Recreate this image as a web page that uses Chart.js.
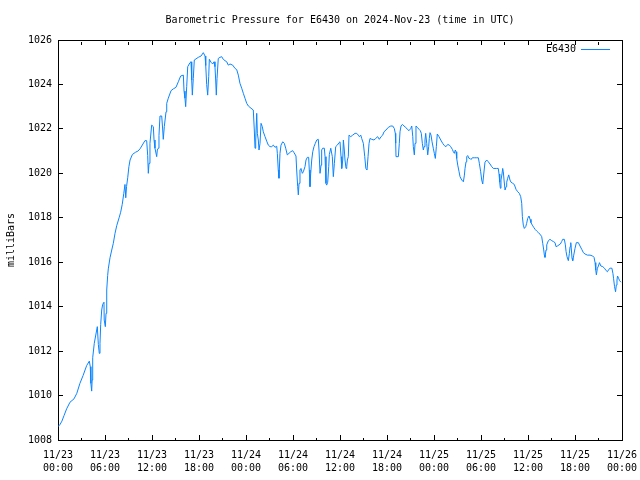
<!DOCTYPE html>
<html>
<head>
<meta charset="utf-8">
<script src="https://cdn.jsdelivr.net/npm/chart.js@4/dist/chart.umd.min.js"></script>
<style>
  html, body { margin: 0; padding: 0; background: #fff; }
  canvas { display: block; }
</style>
</head>
<body>
<canvas id="pressureChart" width="640" height="480"></canvas>
<script>
// hours since 2024-11-23 00:00 UTC
const hours = [
  0.0, 0.26, 0.5, 0.77, 1.1, 1.53, 2.04, 2.4, 2.8, 3.2, 3.66, 4.0, 4.12, 4.2, 4.3, 4.36, 4.43, 4.63, 4.94, 5.02,
  5.15, 5.27, 5.36, 5.45, 5.58, 5.7, 5.87, 5.9, 6.04, 6.13, 6.22, 6.34, 6.42, 6.64, 6.86, 7.06, 7.28, 7.5, 7.8, 8.0,
  8.2, 8.4, 8.55, 8.65, 8.75, 8.9, 9.05, 9.2, 9.5, 9.9, 10.2, 10.47, 11.1, 11.32, 11.45, 11.53, 11.62, 11.74, 11.96, 12.17,
  12.26, 12.38, 12.6, 12.68, 12.8, 12.89, 13.02, 13.24, 13.37, 13.44, 13.57, 13.79, 13.88, 14.08, 14.43, 14.72, 15.06, 15.36, 15.66, 16.0,
  16.09, 16.21, 16.3, 16.43, 16.56, 16.85, 16.98, 17.07, 17.15, 17.27, 17.4, 17.62, 17.91, 18.26, 18.55, 18.77, 18.86, 18.98, 19.11, 19.24,
  19.32, 19.53, 19.75, 19.92, 20.04, 20.13, 20.21, 20.3, 20.46, 20.68, 20.9, 21.1, 21.32, 21.54, 21.74, 21.96, 22.3, 22.6, 22.81, 23.02,
  23.23, 23.45, 23.66, 23.87, 24.09, 24.3, 24.64, 24.93, 25.06, 25.15, 25.24, 25.37, 25.45, 25.57, 25.66, 25.79, 25.92, 26.08, 26.21, 26.43,
  26.64, 26.85, 27.07, 27.28, 27.49, 27.7, 27.92, 28.0, 28.12, 28.21, 28.34, 28.47, 28.69, 28.89, 29.07, 29.27, 29.49, 29.71, 29.96, 30.13,
  30.38, 30.47, 30.6, 30.68, 30.77, 30.89, 31.02, 31.19, 31.32, 31.53, 31.66, 31.83, 32.0, 32.08, 32.17, 32.26, 32.39, 32.52, 32.68, 32.85,
  33.03, 33.23, 33.32, 33.45, 33.58, 33.66, 33.79, 34.0, 34.09, 34.21, 34.3, 34.43, 34.56, 34.64, 34.82, 35.02, 35.15, 35.28, 35.45, 35.66,
  35.88, 36.0, 36.13, 36.22, 36.35, 36.43, 36.55, 36.64, 36.77, 36.86, 36.94, 37.06, 37.15, 37.37, 37.62, 37.92, 38.13, 38.34, 38.47, 38.65,
  38.77, 38.98, 39.16, 39.3, 39.45, 39.58, 39.71, 39.83, 40.05, 40.34, 40.56, 40.81, 41.02, 41.24, 41.45, 41.62, 41.87, 42.17, 42.48, 42.73,
  42.93, 43.06, 43.11, 43.15, 43.45, 43.57, 43.66, 43.79, 43.96, 44.17, 44.39, 44.6, 44.81, 45.03, 45.16, 45.29, 45.36, 45.49, 45.58, 45.7,
  45.87, 46.09, 46.25, 46.38, 46.51, 46.64, 46.73, 46.85, 46.94, 47.07, 47.2, 47.32, 47.4, 47.49, 47.62, 47.75, 47.91, 48.04, 48.17, 48.3,
  48.42, 48.64, 48.86, 49.11, 49.32, 49.53, 49.75, 49.96, 50.13, 50.34, 50.47, 50.6, 50.72, 50.81, 50.9, 51.03, 51.2, 51.32, 51.54, 51.75,
  51.88, 51.96, 52.09, 52.18, 52.3, 52.47, 52.6, 52.73, 52.89, 53.15, 53.45, 53.66, 53.79, 53.96, 54.09, 54.22, 54.35, 54.51, 54.73, 54.93,
  55.15, 55.37, 55.57, 56.0, 56.21, 56.3, 56.39, 56.47, 56.55, 56.68, 56.77, 56.85, 56.94, 57.07, 57.2, 57.28, 57.41, 57.54, 57.7, 57.83,
  58.05, 58.25, 58.47, 58.69, 58.89, 59.07, 59.2, 59.28, 59.4, 59.53, 59.71, 59.83, 59.96, 60.13, 60.26, 60.38, 60.55, 60.73, 60.9, 61.12,
  61.32, 61.54, 61.75, 61.88, 62.01, 62.09, 62.17, 62.3, 62.39, 62.6, 62.81, 63.03, 63.24, 63.45, 63.58, 63.75, 63.96, 64.13, 64.3, 64.43,
  64.64, 64.77, 64.86, 64.98, 65.15, 65.28, 65.37, 65.46, 65.54, 65.62, 65.71, 65.84, 66.0, 66.17, 66.43, 66.64, 66.86, 67.07, 67.28, 67.58,
  67.92, 68.26, 68.43, 68.56, 68.65, 68.73, 68.86, 68.99, 69.12, 69.3, 69.55, 69.76, 69.98, 70.14, 70.32, 70.49, 70.71, 70.84, 70.92, 71.05,
  71.18, 71.27, 71.36, 71.43, 71.56, 71.69, 71.87
];

const pressure = [
  1008.6, 1008.7, 1008.85, 1009.1, 1009.4, 1009.7, 1009.85, 1010.1, 1010.55, 1010.9, 1011.35, 1011.55, 1011.3, 1010.55, 1010.2, 1010.7, 1011.7, 1012.35, 1012.95, 1013.1,
  1012.3, 1011.9, 1012.35, 1013.2, 1013.85, 1014.1, 1014.2, 1013.4, 1013.1, 1013.7, 1014.75, 1015.4, 1015.7, 1016.2, 1016.55, 1016.85, 1017.3, 1017.65, 1018.0, 1018.25,
  1018.6, 1019.1, 1019.5, 1018.9, 1019.4, 1019.8, 1020.3, 1020.6, 1020.85, 1020.95, 1021.0, 1021.1, 1021.47, 1021.47, 1020.8, 1020.0, 1020.45, 1021.35, 1022.17, 1022.1,
  1021.5, 1021.13, 1020.75, 1021.05, 1021.13, 1021.7, 1022.58, 1022.58, 1021.95, 1021.53, 1022.1, 1022.77, 1023.15, 1023.38, 1023.72, 1023.8, 1023.87, 1024.12, 1024.38, 1024.42,
  1023.7, 1023.38, 1023.0, 1023.9, 1024.8, 1024.98, 1025.02, 1024.2, 1023.52, 1024.27, 1025.1, 1025.15, 1025.22, 1025.28, 1025.43, 1025.28, 1024.85, 1024.0, 1023.52, 1024.35,
  1025.13, 1025.0, 1024.92, 1025.02, 1024.8, 1024.2, 1023.52, 1024.27, 1025.17, 1025.22, 1025.25, 1025.13, 1025.07, 1025.02, 1024.87, 1024.92, 1024.87, 1024.72, 1024.67, 1024.42,
  1024.05, 1023.83, 1023.6, 1023.38, 1023.15, 1023.03, 1022.93, 1022.85, 1021.95, 1021.13, 1021.5, 1022.7, 1021.8, 1021.5, 1021.05, 1021.35, 1022.25, 1022.1, 1021.87, 1021.65,
  1021.45, 1021.27, 1021.2, 1021.2, 1021.27, 1021.17, 1021.22, 1020.9, 1020.15, 1019.78, 1020.9, 1021.27, 1021.42, 1021.35, 1021.13, 1020.83, 1020.9, 1020.97, 1021.02, 1020.93,
  1020.78, 1020.15, 1019.4, 1019.03, 1019.55, 1020.15, 1020.22, 1020.0, 1020.07, 1020.3, 1020.6, 1020.72, 1020.72, 1020.15, 1019.4, 1020.0, 1020.6, 1020.97, 1021.2, 1021.35,
  1021.5, 1021.53, 1021.05, 1020.0, 1020.37, 1021.05, 1021.13, 1021.13, 1020.75, 1019.55, 1019.47, 1019.6, 1020.3, 1020.85, 1021.13, 1020.75, 1019.85, 1020.45, 1021.2, 1021.27,
  1021.38, 1021.42, 1020.75, 1020.22, 1020.6, 1021.5, 1021.05, 1020.6, 1020.22, 1020.3, 1020.6, 1020.75, 1021.72, 1021.65, 1021.72, 1021.8, 1021.8, 1021.72, 1021.65, 1021.72,
  1021.57, 1021.35, 1020.75, 1020.22, 1020.15, 1020.75, 1021.35, 1021.57, 1021.53, 1021.5, 1021.57, 1021.65, 1021.53, 1021.65, 1021.72, 1021.87, 1021.95, 1022.07, 1022.13, 1022.13,
  1022.02, 1021.8, 1021.35, 1020.75, 1020.75, 1021.35, 1021.87, 1022.13, 1022.2, 1022.13, 1022.07, 1021.98, 1021.92, 1022.02, 1022.13, 1021.65, 1021.2, 1020.83, 1021.35, 1022.13,
  1022.07, 1021.98, 1021.92, 1021.8, 1021.35, 1021.05, 1021.2, 1021.5, 1021.8, 1021.35, 1020.83, 1021.2, 1021.57, 1021.83, 1021.72, 1021.42, 1021.13, 1020.9, 1020.67, 1021.2,
  1021.77, 1021.65, 1021.5, 1021.35, 1021.25, 1021.2, 1021.3, 1021.27, 1021.2, 1021.08, 1020.97, 1020.9, 1021.05, 1020.97, 1020.67, 1020.37, 1020.07, 1019.85, 1019.7, 1019.62,
  1019.92, 1020.22, 1020.52, 1020.75, 1020.8, 1020.67, 1020.67, 1020.62, 1020.7, 1020.7, 1020.7, 1020.7, 1020.45, 1020.07, 1019.7, 1019.52, 1019.97, 1020.5, 1020.6, 1020.52,
  1020.42, 1020.3, 1020.22, 1020.22, 1020.22, 1019.97, 1019.6, 1019.33, 1019.7, 1019.97, 1020.22, 1020.07, 1019.7, 1019.25, 1019.4, 1019.6, 1019.78, 1019.93, 1019.7, 1019.6,
  1019.55, 1019.5, 1019.28, 1019.17, 1019.1, 1018.95, 1018.65, 1018.05, 1017.67, 1017.52, 1017.6, 1017.75, 1017.97, 1018.08, 1017.93, 1017.78, 1017.67, 1017.57, 1017.48, 1017.4,
  1017.33, 1017.26, 1017.15, 1016.85, 1016.55, 1016.32, 1016.22, 1016.55, 1016.78, 1016.97, 1017.03, 1016.97, 1016.93, 1016.88, 1016.7, 1016.73, 1016.78, 1016.82, 1016.93, 1017.03,
  1017.03, 1016.78, 1016.48, 1016.25, 1016.07, 1016.4, 1016.7, 1016.88, 1016.55, 1016.17, 1016.07, 1016.32, 1016.62, 1016.88, 1016.88, 1016.73, 1016.58, 1016.43, 1016.37, 1016.32,
  1016.32, 1016.28, 1016.22, 1015.98, 1015.65, 1015.43, 1015.73, 1015.83, 1015.98, 1015.83, 1015.8, 1015.73, 1015.62, 1015.57, 1015.68, 1015.73, 1015.73, 1015.5, 1015.28, 1014.9,
  1014.67, 1014.97, 1015.2, 1015.38, 1015.28, 1015.17, 1015.1
];

const tickDates = ['11/23', '11/23', '11/23', '11/23', '11/24', '11/24', '11/24', '11/24', '11/25', '11/25', '11/25', '11/25', '11/26'];
const tickTimes = ['00:00', '06:00', '12:00', '18:00', '00:00', '06:00', '12:00', '18:00', '00:00', '06:00', '12:00', '18:00', '00:00'];

const lineColor = '#0a84ff';

Chart.defaults.font.family = '"DejaVu Sans Mono", monospace';
Chart.defaults.font.size = 10;
Chart.defaults.color = '#000';

// gnuplot style key, drawn inside the plot box at top right
const insideKey = {
  id: 'insideKey',
  afterDraw(chart) {
    const ctx = chart.ctx;
    const area = chart.chartArea;
    const ds = chart.data.datasets[0];
    const y = area.top + 9.5;
    ctx.save();
    ctx.font = '10px "DejaVu Sans Mono", monospace';
    ctx.fillStyle = '#000';
    ctx.textAlign = 'right';
    ctx.textBaseline = 'middle';
    ctx.fillText(ds.label, area.right - 46, y);
    ctx.strokeStyle = ds.borderColor;
    ctx.lineWidth = 1;
    ctx.beginPath();
    ctx.moveTo(area.right - 41, y);
    ctx.lineTo(area.right - 12, y);
    ctx.stroke();
    ctx.restore();
  }
};

function xGrid() {
  return {
    drawOnChartArea: false,
    tickLength: -5,
    color: '#000',
    tickBorderDash: ctx => (ctx.tick && ctx.tick.value % 6 !== 0) ? [3, 20] : []
  };
}

// keep the plot box fixed, like gnuplot's margins
function fixHeight(h) {
  return s => { s.height = h; s.paddingLeft = 0; s.paddingRight = 0; };
}
function fixWidth(w) {
  return s => { s.width = w; s.paddingTop = 0; s.paddingBottom = 0; };
}

const yGrid = { drawOnChartArea: false, tickLength: -5, color: '#000' };
const axisBorder = { color: '#000', width: 1 };

new Chart(document.getElementById('pressureChart'), {
  type: 'line',
  data: {
    datasets: [{
      label: 'E6430',
      data: hours.map((h, i) => ({ x: h, y: pressure[i] })),
      borderColor: lineColor,
      backgroundColor: lineColor,
      borderWidth: 1,
      pointRadius: 0,
      tension: 0,
      xAxisID: 'x',
      yAxisID: 'y'
    }]
  },
  options: {
    responsive: false,
    animation: false,
    devicePixelRatio: 1,
    layout: { padding: 0 },
    plugins: {
      legend: { display: false },
      tooltip: { enabled: false },
      title: {
        display: true,
        text: 'Barometric Pressure for E6430 on 2024-Nov-23 (time in UTC)',
        fullSize: false,
        color: '#000',
        font: { size: 10, weight: 'normal' },
        padding: { top: 14, bottom: 0 }
      }
    },
    scales: {
      x: {
        type: 'linear',
        position: 'bottom',
        min: 0,
        max: 72,
        ticks: {
          stepSize: 3,
          autoSkip: false,
          maxRotation: 0,
          padding: 14,
          font: { size: 10, lineHeight: 1.3 },
          callback: v => v % 6 === 0 ? [tickDates[v / 6], tickTimes[v / 6]] : ''
        },
        grid: xGrid(),
        border: axisBorder,
        afterFit: fixHeight(40)
      },
      xTop: {
        type: 'linear',
        position: 'top',
        min: 0,
        max: 72,
        ticks: { stepSize: 3, display: false },
        grid: xGrid(),
        border: axisBorder,
        afterFit: fixHeight(14)
      },
      y: {
        type: 'linear',
        position: 'left',
        min: 1008,
        max: 1026,
        ticks: { stepSize: 2, padding: 11, callback: v => String(v) },
        grid: yGrid,
        border: axisBorder,
        title: { display: true, text: 'milliBars', padding: { top: 5, bottom: 0 } },
        afterFit: fixWidth(58)
      },
      yRight: {
        type: 'linear',
        position: 'right',
        min: 1008,
        max: 1026,
        ticks: { stepSize: 2, display: false },
        grid: yGrid,
        border: axisBorder,
        afterFit: fixWidth(18)
      }
    }
  },
  plugins: [insideKey]
});
</script>
</body>
</html>
